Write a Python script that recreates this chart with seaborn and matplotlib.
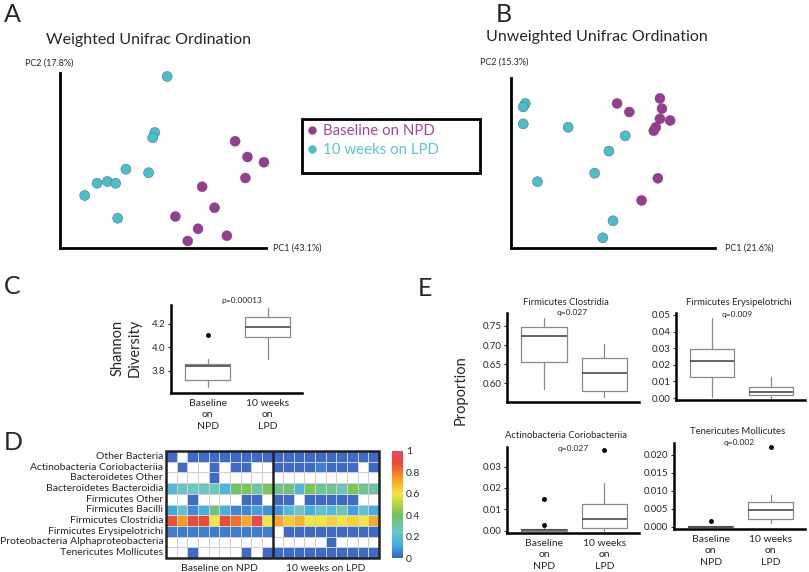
import numpy as np
import pandas as pd
import matplotlib
matplotlib.use('Agg')
import matplotlib.pyplot as plt
from matplotlib.colors import LinearSegmentedColormap
from matplotlib.lines import Line2D
from matplotlib.patches import Rectangle
import seaborn as sns

# ---------------- data ----------------
groups = ['Baseline on NPD', '10 weeks on LPD']
group_colors = {'Baseline on NPD': '#9a3a96', '10 weeks on LPD': '#48bfcf'}
legend_text_colors = ['#a2479e', '#58c6d6']

# weighted unifrac PCoA (scaled scores)
wu_pc1_npd = [0.85, 0.91, 0.99, 0.90, 0.69, 0.75, 0.56, 0.67, 0.81, 0.62]
wu_pc2_npd = [0.61, 0.52, 0.49, 0.40, 0.35, 0.23, 0.18, 0.11, 0.07, 0.04]
wu_pc1_lpd = [0.52, 0.46, 0.45, 0.32, 0.43, 0.18, 0.23, 0.27, 0.12, 0.28]
wu_pc2_lpd = [0.98, 0.66, 0.63, 0.45, 0.43, 0.37, 0.38, 0.37, 0.30, 0.17]

# unweighted unifrac PCoA (scaled scores)
uu_pc1_npd = [0.52, 0.58, 0.73, 0.74, 0.73, 0.78, 0.71, 0.70, 0.72, 0.64]
uu_pc2_npd = [0.85, 0.80, 0.88, 0.82, 0.76, 0.75, 0.71, 0.69, 0.41, 0.28]
uu_pc1_lpd = [0.07, 0.06, 0.06, 0.28, 0.56, 0.48, 0.41, 0.13, 0.50, 0.45]
uu_pc2_lpd = [0.85, 0.83, 0.73, 0.71, 0.66, 0.57, 0.44, 0.39, 0.16, 0.06]

# box stats: whislo, q1, med, q3, whishi, fliers
shannon_npd = [3.66, 3.723, 3.84, 3.862, 3.90, [4.106]]
shannon_lpd = [3.90, 4.087, 4.177, 4.257, 4.333, []]

clos_npd = [0.585, 0.655, 0.724, 0.747, 0.772, []]
clos_lpd = [0.563, 0.581, 0.626, 0.667, 0.704, []]
erys_npd = [0.0004, 0.0124, 0.0224, 0.0294, 0.0484, []]
erys_lpd = [0.0002, 0.0018, 0.0038, 0.0064, 0.0125, []]
corio_npd = [0.0, 0.0, 0.0002, 0.0008, 0.0012, [0.0149, 0.0027]]
corio_lpd = [0.0, 0.0011, 0.0056, 0.0125, 0.0225, [0.0377]]
moll_npd = [0.0, 0.0, 0.0001, 0.0002, 0.0003, [0.0017]]
moll_lpd = [0.0010, 0.0021, 0.0047, 0.0070, 0.0089, [0.0223]]

# heatmap (0 = absent, drawn white)
taxa = ['Other Bacteria', 'Actinobacteria Coriobacteriia', 'Bacteroidetes Other',
        'Bacteroidetes Bacteroidia', 'Firmicutes Other', 'Firmicutes Bacilli',
        'Firmicutes Clostridia', 'Firmicutes Erysipelotrichi',
        'Proteobacteria Alphaproteobacteria', 'Tenericutes Mollicutes']
b = 0.02
heat = [
    [b, 0, b, b, b, b, b, b, b, b,   b, b, b, b, b, b, b, b, b, b],
    [0, b, 0, 0, b, 0, b, b, 0, 0,   b, b, b, b, 0.05, b, b, b, 0, b],
    [0, 0, 0, 0, b, 0, 0, 0, 0, 0,   0, 0, 0, 0, 0, 0, 0, 0, 0, 0],
    [0.18, 0.24, 0.26, 0.26, 0.26, 0.16, 0.38, 0.42, 0.30, 0.42,
     0.33, 0.36, 0.17, 0.42, 0.32, 0.33, 0.27, 0.42, 0.33, 0.30],
    [0, 0, b, 0, 0, 0, 0, b, b, 0,   b, b, 0, b, b, b, b, b, 0, 0],
    [0.12, 0.22, 0.07, 0.14, 0.35, 0.14, 0.06, 0.06, 0.10, 0.08,
     0.08, 0.18, 0.25, 0.14, 0.22, 0.18, 0.28, 0.10, 0.22, 0.13],
    [0.87, 0.75, 0.90, 0.88, 0.60, 0.90, 0.82, 0.73, 0.93, 0.60,
     0.73, 0.65, 0.70, 0.60, 0.60, 0.64, 0.60, 0.64, 0.60, 0.72],
    [0.05, 0.05, 0.05, 0.05, 0.05, 0.05, 0.05, 0.05, 0.05, 0.05,
     0, b, b, b, b, b, b, b, b, b],
    [0, 0, 0, 0, 0, 0, 0, 0, 0, 0,   0, 0, 0, 0, 0, b, 0, 0, 0, 0],
    [0, 0, b, 0, 0, 0, 0, b, 0, b,   b, b, b, b, b, b, b, b, b, b],
]

# ---------------- figure ----------------
sns.set_style('white')
plt.rcParams['font.family'] = ['Lato', 'DejaVu Sans']

W, H = 809, 572
fig = plt.figure(figsize=(W / 100, H / 100), dpi=100)


def box(l, t, r, bt):
    return [l / W, 1 - bt / H, (r - l) / W, (bt - t) / H]


def ftext(x, y, s, **kw):
    kw.setdefault('va', 'center')
    fig.text(x / W, 1 - y / H, s, **kw)


def axis_style(ax, lw=1.8):
    for s in ['top', 'right']:
        ax.spines[s].set_visible(False)
    for s in ['left', 'bottom']:
        ax.spines[s].set_linewidth(lw)
        ax.spines[s].set_color('black')


# ---- A and B: ordination scatter ----
def ordination(rect, x1, y1, x2, y2):
    ax = fig.add_axes(box(*rect))
    df = pd.DataFrame({'PC1': x1 + x2, 'PC2': y1 + y2,
                       'group': [groups[0]] * len(x1) + [groups[1]] * len(x2)})
    sns.scatterplot(data=df, x='PC1', y='PC2', hue='group', palette=group_colors,
                    s=52, edgecolor='#555555', linewidth=0.3, legend=False,
                    ax=ax, clip_on=False, zorder=3)
    ax.set_xlim(0, 1)
    ax.set_ylim(0, 1)
    ax.set_xticks([])
    ax.set_yticks([])
    ax.set_xlabel('')
    ax.set_ylabel('')
    axis_style(ax, 2.0)
    return ax


ordination((60, 73, 266, 248), wu_pc1_npd, wu_pc2_npd, wu_pc1_lpd, wu_pc2_lpd)
ordination((511, 78, 715, 248), uu_pc1_npd, uu_pc2_npd, uu_pc1_lpd, uu_pc2_lpd)

ftext(148, 40, 'Weighted Unifrac Ordination', ha='center', fontsize=11.5)
ftext(597, 37, 'Unweighted Unifrac Ordination', ha='center', fontsize=11.5)
ftext(25, 63, 'PC2 (17.8%)', ha='left', fontsize=6.5)
ftext(273, 248, 'PC1 (43.1%)', ha='left', fontsize=6.5)
ftext(480, 62, 'PC2 (15.3%)', ha='left', fontsize=6.5)
ftext(725, 248, 'PC1 (21.6%)', ha='left', fontsize=6.5)

# legend: frame drawn as a figure rectangle, entries placed inside it
fig.patches.append(Rectangle((302 / W, 1 - 173 / H), 178 / W, 54 / H,
                             transform=fig.transFigure, fill=False,
                             edgecolor='black', lw=2))
handles = [Line2D([], [], marker='o', ls='', color=group_colors[g], markersize=5)
           for g in groups]
leg = fig.legend(handles, groups, loc='upper left',
                 bbox_to_anchor=(306 / W, 1 - 124 / H),
                 fontsize=10.8, frameon=False, borderpad=0, borderaxespad=0,
                 handletextpad=0.35, handlelength=0.8, labelspacing=0.35)
for t, c in zip(leg.get_texts(), legend_text_colors):
    t.set_color(c)


# ---- box plots ----
def stats(vals, label):
    return dict(whislo=vals[0], q1=vals[1], med=vals[2], q3=vals[3],
                whishi=vals[4], fliers=vals[5], label=label)


def boxpanel(rect, s1, s2, ylim, yticks, fmt, xlabels=True, xlim=(-0.61, 1.57)):
    ax = fig.add_axes(box(*rect))
    labs = ['Baseline\non\nNPD', '10 weeks\non\nLPD']
    ax.bxp([stats(s1, labs[0]), stats(s2, labs[1])], positions=[0, 1], widths=0.75,
           showcaps=False,
           boxprops=dict(color='#8a8a8a', linewidth=0.9),
           whiskerprops=dict(color='#8a8a8a', linewidth=0.9),
           medianprops=dict(color='#4a4a4a', linewidth=1.2),
           flierprops=dict(marker='o', markerfacecolor='black', markeredgecolor='black',
                           markersize=2.5))
    ax.set_xlim(*xlim)
    ax.set_ylim(*ylim)
    ax.set_yticks(yticks)
    ax.set_yticklabels([fmt % v for v in yticks])
    ax.tick_params(axis='y', length=2.5, width=0.8, pad=1.5, labelsize=7, left=True)
    if xlabels:
        ax.tick_params(axis='x', length=0, pad=4, labelsize=7.5)
        for t in ax.get_xticklabels():
            t.set_linespacing(1.4)
    else:
        ax.set_xticklabels([])
        ax.tick_params(axis='x', length=0)
    axis_style(ax)
    ax.set_facecolor('none')
    return ax


boxpanel((171, 305, 302, 393), shannon_npd, shannon_lpd, (3.613, 4.36),
         [3.8, 4.0, 4.2], '%.1f')
ftext(242, 301, 'p=0.00013', ha='center', fontsize=6)
ftext(126, 348, 'Shannon\nDiversity', ha='center', fontsize=10.5, rotation=90,
      linespacing=1.3)

boxpanel((507, 313, 639, 402), clos_npd, clos_lpd, (0.551, 0.784),
         [0.60, 0.65, 0.70, 0.75], '%.2f', xlabels=False)
boxpanel((676, 313, 805, 400), erys_npd, erys_lpd, (-0.0012, 0.0512),
         [0.0, 0.01, 0.02, 0.03, 0.04, 0.05], '%.2f', xlabels=False)
boxpanel((507, 447, 639, 533), corio_npd, corio_lpd, (-0.0011, 0.0392),
         [0.0, 0.01, 0.02, 0.03], '%.2f')
boxpanel((674, 443, 805, 529), moll_npd, moll_lpd, (-0.00056, 0.0233),
         [0.0, 0.005, 0.010, 0.015, 0.020], '%.3f')

ftext(566, 302, 'Firmicutes Clostridia', ha='center', fontsize=6.8)
ftext(572, 313, 'q=0.027', ha='center', fontsize=6)
ftext(739, 302, 'Firmicutes Erysipelotrichi', ha='center', fontsize=6.8)
ftext(737, 314, 'q=0.009', ha='center', fontsize=6)
ftext(566, 435, 'Actinobacteria Coriobacteriia', ha='center', fontsize=6.8)
ftext(573, 448, 'q=0.027', ha='center', fontsize=6)
ftext(738, 431, 'Tenericutes Mollicutes', ha='center', fontsize=6.8)
ftext(739, 443, 'q=0.002', ha='center', fontsize=6)
ftext(461, 390, 'Proportion', ha='center', fontsize=10.5, rotation=90)

# ---- D: heatmap ----
cmap = LinearSegmentedColormap.from_list('rb', [
    (0.0, '#3d5fc2'), (0.12, '#3eaee8'), (0.25, '#6cc7c4'), (0.4, '#6fc25a'),
    (0.6, '#f4e63c'), (0.75, '#f89c22'), (0.88, '#ef4a30'), (1.0, '#e8485c')])
hm = pd.DataFrame(heat, index=taxa)
axh = fig.add_axes(box(166, 451, 379, 558))
cax = fig.add_axes(box(392, 451, 403, 558))
sns.heatmap(hm, mask=hm == 0, cmap=cmap, vmin=0, vmax=1, linewidths=0.5,
            linecolor='#cfcfcf', cbar_ax=cax, xticklabels=False, yticklabels=taxa,
            ax=axh)
axh.set_xticks([5, 15])
axh.set_xticklabels(groups)
axh.tick_params(axis='x', length=0, pad=4, labelsize=7.5)
axh.tick_params(axis='y', length=0, pad=2, labelsize=7.5, rotation=0)
axh.add_patch(Rectangle((0, 0), 20, 10, fill=False, edgecolor='#222222', lw=1.8,
                        clip_on=False))
axh.axvline(10, color='#222222', lw=1.8)
cbar = axh.collections[0].colorbar
cbar.outline.set_visible(False)
cbar.set_ticks([0, 0.2, 0.4, 0.6, 0.8, 1])
cbar.set_ticklabels(['0', '0.2', '0.4', '0.6', '0.8', '1'])
cax.tick_params(length=0, labelsize=7.5, pad=2)

# ---- panel letters ----
for letter, (x, y) in zip('ABCDE', [(4, 15), (496, 15), (4, 287), (4, 443), (418, 288)]):
    ftext(x, y, letter, ha='left', fontsize=18)

fig.savefig('out.png', dpi=100)
